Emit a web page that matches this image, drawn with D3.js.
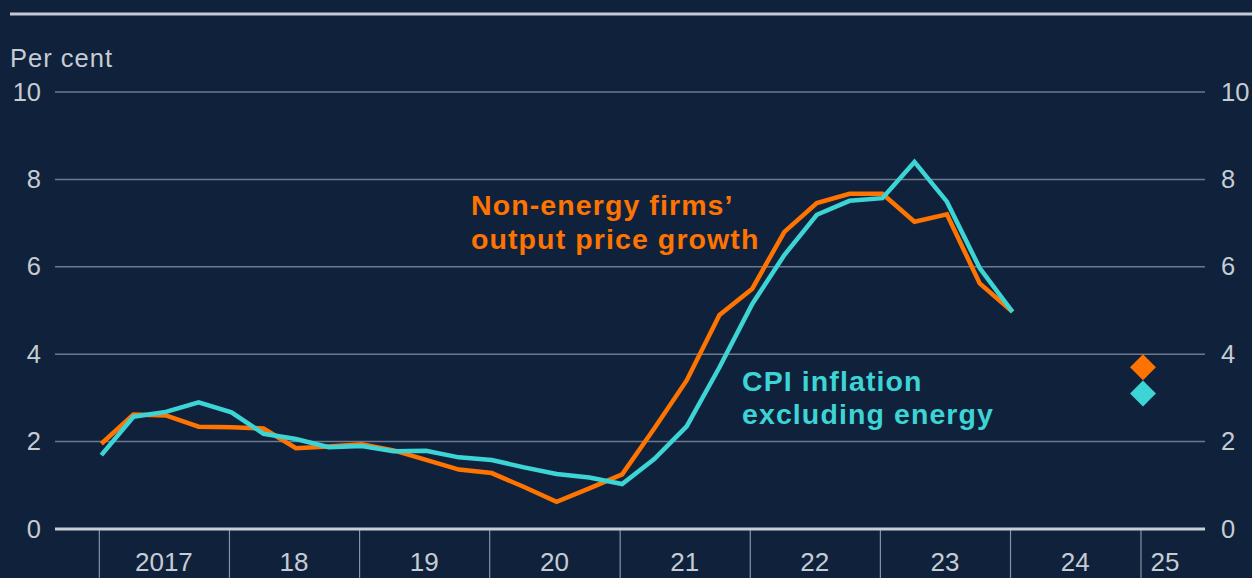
<!DOCTYPE html>
<html>
<head>
<meta charset="utf-8">
<script src="https://cdn.jsdelivr.net/npm/d3@7"></script>
<style>
    html, body { margin: 0; padding: 0; background: #10223b; }
    svg { display: block; font-family: "Liberation Sans", Arial, sans-serif; }
</style>
</head>
<body>
<svg id="chart"></svg>
<script>
// Quarterly observations, 2017 Q1 to 2024 Q1
const quarters = [
    "2017 Q1", "2017 Q2", "2017 Q3", "2017 Q4",
    "2018 Q1", "2018 Q2", "2018 Q3", "2018 Q4",
    "2019 Q1", "2019 Q2", "2019 Q3", "2019 Q4",
    "2020 Q1", "2020 Q2", "2020 Q3", "2020 Q4",
    "2021 Q1", "2021 Q2", "2021 Q3", "2021 Q4",
    "2022 Q1", "2022 Q2", "2022 Q3", "2022 Q4",
    "2023 Q1", "2023 Q2", "2023 Q3", "2023 Q4",
    "2024 Q1"
];
const firmsPrices = [
    1.95, 2.62, 2.6, 2.34, 2.33, 2.3, 1.85, 1.89, 1.94, 1.8,
    1.58, 1.36, 1.28, 0.96, 0.62, 0.93, 1.25, 2.3, 3.4, 4.9,
    5.5, 6.8, 7.46, 7.67, 7.67, 7.03, 7.2, 5.62, 4.97
];
const cpiExEnergy = [
    1.69, 2.57, 2.68, 2.9, 2.67, 2.18, 2.06, 1.87, 1.9, 1.78,
    1.79, 1.64, 1.58, 1.41, 1.26, 1.18, 1.03, 1.6, 2.35, 3.7,
    5.15, 6.27, 7.19, 7.51, 7.57, 8.4, 7.49, 5.97, 4.97
];
// Expectations for 2025 Q1 (diamonds)
const expQuarter = "2025 Q1";
const firmsExpected = 3.7;
const cpiExpected = 3.1;

const yearTicks = [2017, 2018, 2019, 2020, 2021, 2022, 2023, 2024, 2025];
const yearLabels = ["2017", "18", "19", "20", "21", "22", "23", "24", "25"];
const yTicks = [0, 2, 4, 6, 8, 10];

const ORANGE = "#ff7300";
const CYAN = "#3dd4d6";
const TEXT = "#c6ccd4";

function parseQuarter(q) {
    const [y, qq] = q.split(" Q");
    return new Date(+y, (+qq - 1) * 3, 8);
}

function drawChart() {
    const width = 1252, height = 578;
    const svg = d3.select("#chart").attr("width", width).attr("height", height);

    const x = d3.scaleTime()
        .domain([new Date(2016, 7, 31), new Date(2025, 6, 1)])
        .range([55, 1205]);
    const y = d3.scaleLinear().domain([0, 10]).range([529, 92]);

    // top rule
    svg.append("line")
        .attr("x1", 10).attr("x2", width)
        .attr("y1", 14).attr("y2", 14)
        .attr("stroke", "#c3cad4").attr("stroke-width", 3);

    svg.append("text")
        .attr("x", 10).attr("y", 67)
        .attr("fill", TEXT).attr("font-size", 25.5)
        .attr("letter-spacing", 1)
        .text("Per cent");

    // gridlines
    svg.append("g")
        .selectAll("line")
        .data(yTicks.filter(d => d > 0))
        .join("line")
        .attr("x1", 55).attr("x2", 1205)
        .attr("y1", d => y(d)).attr("y2", d => y(d))
        .attr("stroke", "#6c7a8e").attr("stroke-width", 1.5);

    // left and right axes
    const leftAxis = svg.append("g")
        .attr("transform", "translate(41,0)")
        .call(d3.axisLeft(y).tickValues(yTicks).tickSize(0).tickPadding(0));
    const rightAxis = svg.append("g")
        .attr("transform", "translate(1221,0)")
        .call(d3.axisRight(y).tickValues(yTicks).tickSize(0).tickPadding(0));
    [leftAxis, rightAxis].forEach(a => {
        a.select(".domain").remove();
        a.selectAll("text")
            .attr("fill", TEXT)
            .attr("font-size", 25.5)
            .attr("font-family", "Liberation Sans, Arial, sans-serif");
    });

    // x axis: year dividers
    const xAxis = svg.append("g")
        .attr("transform", "translate(0,529)")
        .call(d3.axisBottom(x)
            .tickValues(yearTicks.map(yr => new Date(yr, 0, 1)))
            .tickSize(49)
            .tickFormat(""));
    xAxis.select(".domain").remove();
    xAxis.selectAll(".tick line").attr("stroke", "#8593a6").attr("stroke-width", 1.2);

    svg.append("g")
        .selectAll("text")
        .data(yearTicks)
        .join("text")
        .attr("x", (d, i) => {
            const x0 = x(new Date(d, 0, 1));
            const x1 = Math.min(x(new Date(d + 1, 0, 1)), 1205);
            return i === yearTicks.length - 1 ? x0 + 10 : (x0 + x1) / 2;
        })
        .attr("y", 571)
        .attr("text-anchor", (d, i) => i === yearTicks.length - 1 ? "start" : "middle")
        .attr("fill", TEXT).attr("font-size", 26)
        .text((d, i) => yearLabels[i]);

    // zero line
    svg.append("line")
        .attr("x1", 55).attr("x2", 1205)
        .attr("y1", y(0)).attr("y2", y(0))
        .attr("stroke", "#c8ced6").attr("stroke-width", 3);

    const line = d3.line()
        .x(d => x(d.date))
        .y(d => y(d.value));

    const firmsData = quarters.map((q, i) => ({ date: parseQuarter(q), value: firmsPrices[i] }));
    const cpiData = quarters.map((q, i) => ({ date: parseQuarter(q), value: cpiExEnergy[i] }));

    svg.append("path").datum(firmsData)
        .attr("fill", "none").attr("stroke", ORANGE)
        .attr("stroke-width", 4.5).attr("stroke-linejoin", "miter")
        .attr("d", line);
    svg.append("path").datum(cpiData)
        .attr("fill", "none").attr("stroke", CYAN)
        .attr("stroke-width", 4.5).attr("stroke-linejoin", "miter")
        .attr("d", line);

    // expectation diamonds
    const diamond = d3.symbol().type(d3.symbolDiamond2).size(430);
    [[firmsExpected, ORANGE], [cpiExpected, CYAN]].forEach(([v, c]) => {
        svg.append("path")
            .attr("d", diamond)
            .attr("transform", `translate(${x(parseQuarter(expQuarter))},${y(v)})`)
            .attr("fill", c);
    });

    // series labels
    const firmsLabel = svg.append("text")
        .attr("fill", ORANGE).attr("font-size", 28.5).attr("font-weight", "bold")
        .attr("letter-spacing", 1.1);
    firmsLabel.append("tspan").attr("x", 471).attr("y", 215).text("Non-energy firms\u2019");
    firmsLabel.append("tspan").attr("x", 471).attr("y", 249).text("output price growth");

    const cpiLabel = svg.append("text")
        .attr("fill", CYAN).attr("font-size", 28.5).attr("font-weight", "bold")
        .attr("letter-spacing", 1.1);
    cpiLabel.append("tspan").attr("x", 742).attr("y", 391).text("CPI inflation");
    cpiLabel.append("tspan").attr("x", 742).attr("y", 424).text("excluding energy");
}

drawChart();
</script>
</body>
</html>
